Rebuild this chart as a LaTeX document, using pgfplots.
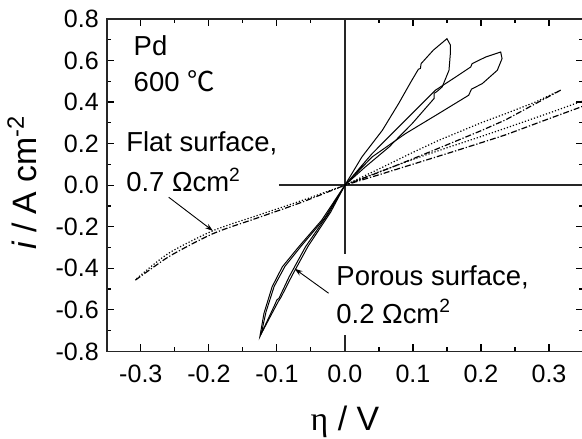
\documentclass[border=0pt]{standalone}
\usepackage{fontspec}
\setmainfont{Liberation Sans}
\newfontfamily\cjk{Noto Sans CJK SC}
\newfontfamily\serif{Liberation Serif}
\usepackage{pgfplots}
\pgfplotsset{compat=1.18}
\usetikzlibrary{arrows.meta}

\begin{document}
\begin{tikzpicture}
\begin{axis}[
    name=ax,
    scale only axis,
    width=238.5bp, height=166.5bp,
    xmin=-0.35, xmax=0.35, ymin=-0.8, ymax=0.8,
    xtick={-0.3,-0.2,-0.1,0,0.1,0.2,0.3},
    xticklabels={-0.3,-0.2,-0.1,0.0,0.1,0.2,0.3},
    ytick={-0.8,-0.6,-0.4,-0.2,0,0.2,0.4,0.6,0.8},
    yticklabels={-0.8,-0.6,-0.4,-0.2,0.0,0.2,0.4,0.6,0.8},
    minor tick num=1,
    tick align=inside,
    major tick length=3.5bp, minor tick length=2bp,
    tick style={black, line width=0.6pt},
    axis line style={black!85, line width=0.7pt},
    ticklabel style={font=\fontsize{12.6}{14}\selectfont},
    xticklabel style={yshift=-3.5bp},
    yticklabel style={xshift=-0.5bp},
    clip mode=individual,
]
% reference lines through the origin
\addplot[black!85, line width=0.7pt] coordinates {(0,-0.33) (0,0.8)};
\addplot[black!85, line width=0.7pt] coordinates {(0,-0.8) (0,-0.72)};
\addplot[black!85, line width=0.7pt] coordinates {(-0.097,0) (0.35,0)};

% porous surface, anodic loops
\addplot[black, line width=0.5pt] coordinates {
 (0,0) (0.025,0.136) (0.055,0.264) (0.079,0.393) (0.097,0.497) (0.108,0.558)
 (0.111,0.562) (0.112,0.585) (0.130,0.650) (0.150,0.705) (0.155,0.675)
 (0.155,0.633) (0.153,0.553) (0.143,0.473) (0.135,0.450) (0.131,0.442)
 (0.131,0.417) (0.099,0.297) (0.065,0.184) (0.030,0.088) (0,0)};
\addplot[black, line width=0.5pt] coordinates {
 (0,0) (0.040,0.152) (0.089,0.313) (0.133,0.457) (0.163,0.521) (0.185,0.569)
 (0.187,0.585) (0.207,0.617) (0.229,0.641) (0.231,0.609) (0.224,0.553)
 (0.202,0.489) (0.186,0.462) (0.182,0.433) (0.138,0.345) (0.089,0.248)
 (0.040,0.136) (0,0)};
% porous surface, cathodic loops
\addplot[black, line width=0.5pt] coordinates {
 (0,0) (-0.034,-0.168) (-0.068,-0.297) (-0.092,-0.393) (-0.107,-0.489)
 (-0.119,-0.617) (-0.125,-0.729) (-0.103,-0.575) (-0.100,-0.552)
 (-0.097,-0.545) (-0.082,-0.441) (-0.058,-0.297) (-0.024,-0.136) (0,0)};
\addplot[black, line width=0.5pt] coordinates {
 (0,0) (-0.030,-0.160) (-0.064,-0.292) (-0.088,-0.390) (-0.104,-0.487)
 (-0.116,-0.610) (-0.123,-0.715) (-0.098,-0.560) (-0.094,-0.540)
 (-0.078,-0.437) (-0.054,-0.293) (-0.021,-0.130) (0,0)};

% flat surface, anodic loops
\addplot[black, line width=0.6pt, densely dotted] coordinates {
 (0,0) (0.05,0.078) (0.10,0.158) (0.138,0.216) (0.20,0.300) (0.236,0.344)
 (0.28,0.400) (0.317,0.457)};
\addplot[black, line width=0.6pt, densely dash dot] coordinates {
 (0.317,0.457) (0.28,0.392) (0.236,0.314) (0.20,0.262) (0.138,0.178)
 (0.10,0.127) (0.05,0.062) (0,0)};
\addplot[black, line width=0.6pt, densely dotted] coordinates {
 (0,0) (0.05,0.064) (0.10,0.124) (0.15,0.180) (0.20,0.234) (0.236,0.274)
 (0.30,0.347) (0.36,0.418)};
\addplot[black, line width=0.6pt, densely dash dot] coordinates {
 (0.36,0.392) (0.30,0.320) (0.236,0.242) (0.20,0.204) (0.15,0.152)
 (0.10,0.101) (0.05,0.050) (0,0)};
% flat surface, cathodic loop
\addplot[black, line width=0.6pt, densely dotted, smooth] coordinates {
 (0,0) (-0.065,-0.076) (-0.129,-0.146) (-0.193,-0.218) (-0.251,-0.312)
 (-0.276,-0.368) (-0.308,-0.455)};
\addplot[black, line width=0.6pt, densely dash dot, smooth] coordinates {
 (-0.308,-0.457) (-0.276,-0.382) (-0.251,-0.329) (-0.193,-0.232)
 (-0.129,-0.158) (-0.065,-0.084) (0,0)};

% annotations
\node[anchor=base west, inner sep=0, font=\fontsize{13.8}{15}\selectfont]
  at (axis cs:-0.311,0.625) {Pd};
\node[anchor=base west, inner sep=0, font=\fontsize{13.8}{15}\selectfont]
  at (axis cs:-0.311,0.449) {600 {\cjk ℃}};
\node[anchor=base west, inner sep=0, font=\fontsize{13.8}{15}\selectfont]
  at (axis cs:-0.322,0.160) {Flat surface,};
\node[anchor=base west, inner sep=0, font=\fontsize{13.8}{15}\selectfont]
  at (axis cs:-0.322,-0.032) {0.7 Ωcm\textsuperscript{2}};
\node[anchor=base west, inner sep=0, font=\fontsize{13.8}{15}\selectfont]
  at (axis cs:-0.013,-0.481) {Porous surface,};
\node[anchor=base west, inner sep=0, font=\fontsize{13.8}{15}\selectfont]
  at (axis cs:-0.013,-0.665) {0.2 Ωcm\textsuperscript{2}};
\draw[black, line width=0.45pt, -{Stealth[length=4pt,width=2.6pt]}]
  (axis cs:-0.259,-0.058) -- (axis cs:-0.194,-0.220);
\draw[black, line width=0.45pt, -{Stealth[length=4pt,width=2.6pt]}]
  (axis cs:-0.024,-0.520) -- (axis cs:-0.074,-0.402);

% axis labels
\node[rotate=90, font=\fontsize{17}{19}\selectfont]
  at (axis description cs:-0.178,0.508) {{\itshape i} / A cm\textsuperscript{-2}};
\node[font=\fontsize{17}{19}\selectfont]
  at (axis description cs:0.5,-0.213) {{\serif η} / V};
\end{axis}
\pgfresetboundingbox
\path[use as bounding box] ([xshift=-53.5bp,yshift=-43.5bp]ax.south west)
  rectangle ([xshift=-0.5bp,yshift=9.5bp]ax.north east);
\end{tikzpicture}
\end{document}
